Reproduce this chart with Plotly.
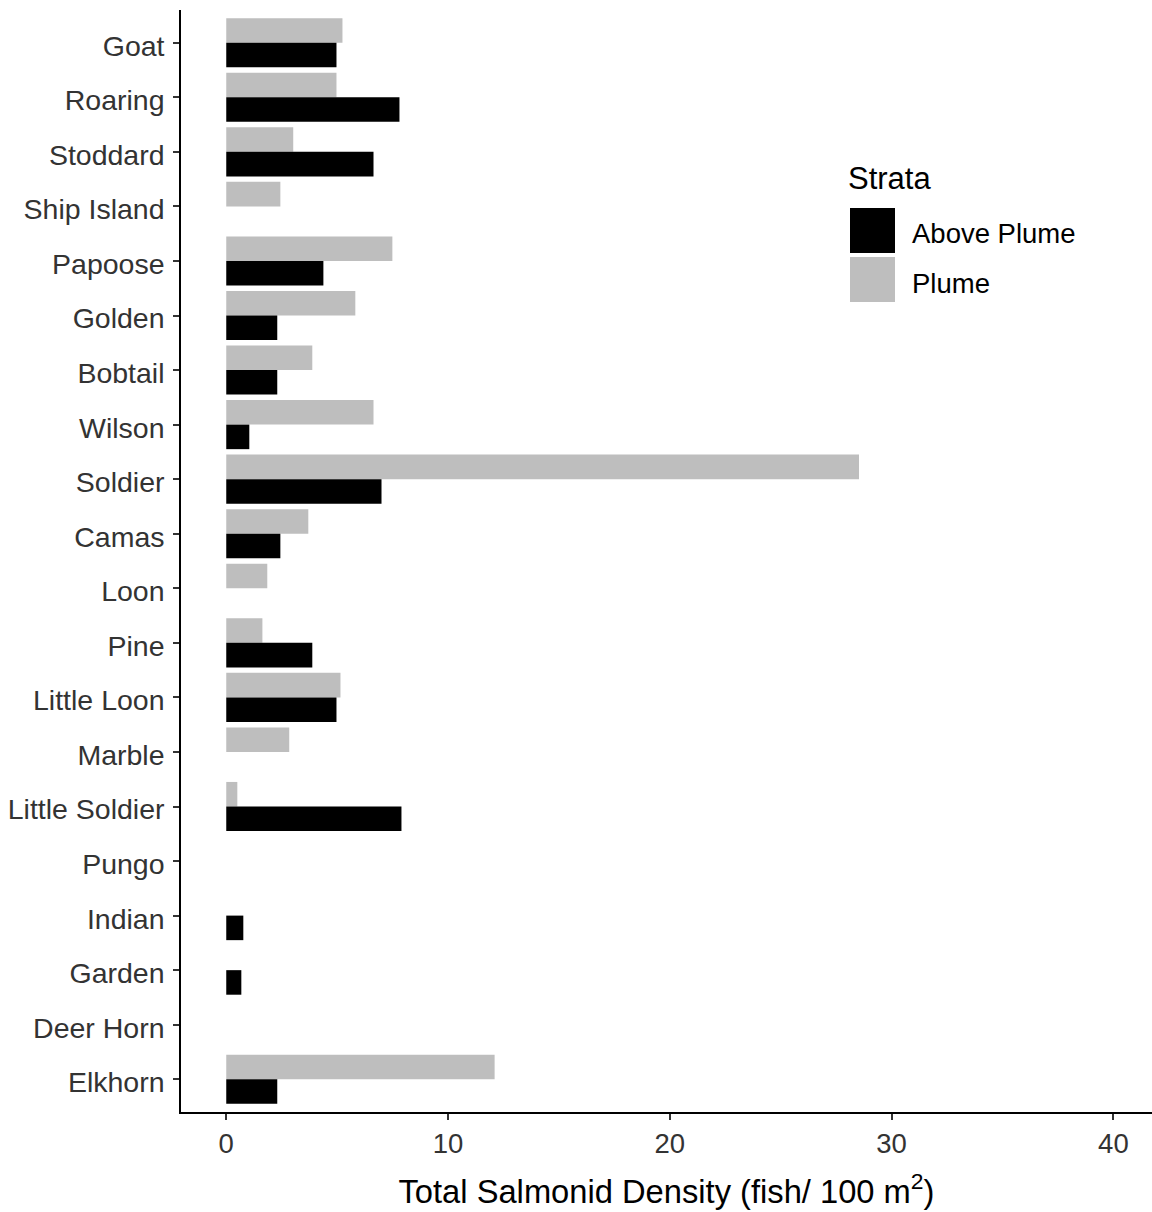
import plotly.graph_objects as go

# Sites, top to bottom
sites = ["Goat", "Roaring", "Stoddard", "Ship Island", "Papoose", "Golden",
         "Bobtail", "Wilson", "Soldier", "Camas", "Loon", "Pine", "Little Loon",
         "Marble", "Little Soldier", "Pungo", "Indian", "Garden", "Deer Horn",
         "Elkhorn"]

# Total salmonid density (fish / 100 m^2) by stratum; None = not sampled
plume = [5.24, 4.97, 3.02, 2.44, 7.49, 5.82, 3.88, 6.64, 28.53, 3.70, 1.85,
         1.63, 5.15, 2.84, 0.50, None, None, None, None, 12.10]
above_plume = [4.97, 7.81, 6.64, None, 4.38, 2.30, 2.30, 1.04, 7.00, 2.44,
               None, 3.88, 4.97, None, 7.90, None, 0.77, 0.68, None, 2.30]

x_ticks = [0, 10, 20, 30, 40]

W, H = 1152, 1212
ML, MR, MT, MB = 181, 0, 10, 100
FONT = "Liberation Sans, Arial, sans-serif"
GREY = "#BEBEBE"
TICK_COL = "#333333"

fig = go.Figure()
fig.add_trace(go.Bar(y=sites, x=plume, orientation="h", name="Plume",
                     marker=dict(color=GREY, line=dict(width=0)), showlegend=False))
fig.add_trace(go.Bar(y=sites, x=above_plume, orientation="h", name="Above Plume",
                     marker=dict(color="black", line=dict(width=0)), showlegend=False))

fig.update_layout(
    width=W, height=H,
    margin=dict(l=ML, r=MR, t=MT, b=MB, pad=0),
    paper_bgcolor="white", plot_bgcolor="white",
    barmode="group", bargap=0.1, bargroupgap=0,
    font=dict(family=FONT, size=28, color="black"),
)

fig.update_xaxes(
    range=[-2.04, 41.74], tickvals=x_ticks, ticks="outside", ticklen=6,
    tickwidth=1.5, tickcolor=TICK_COL, showgrid=False, zeroline=False,
    showline=True, linecolor="black", linewidth=1.5,
    tickfont=dict(size=27.5, color=TICK_COL, family=FONT),
    title=dict(text="Total Salmonid Density (fish/ 100 m<sup>2</sup>)",
               font=dict(size=32.7, color="black", family=FONT), standoff=22),
)
fig.update_yaxes(
    categoryorder="array", categoryarray=sites, range=[19.6, -0.6],
    ticks="outside", ticklen=6, tickwidth=1.5, tickcolor=TICK_COL,
    showgrid=False, zeroline=False, showline=True, linecolor="black",
    linewidth=1.5, tickfont=dict(size=28.5, color=TICK_COL, family=FONT),
    ticklabelstandoff=3, ticklabelshift=-3,
)

# Legend drawn in paper space
PW, PH = W - ML - MR, H - MT - MB


def px(x):
    return (x - ML) / PW


def py(y):
    return (H - MB - y) / PH


fig.add_annotation(x=px(846), y=py(178), xref="paper", yref="paper",
                   text="Strata", showarrow=False, xanchor="left", yanchor="middle",
                   font=dict(size=31, color="black", family=FONT))
legend_items = [("Above Plume", "black", 208), ("Plume", GREY, 257)]
for label, col, top in legend_items:
    fig.add_shape(type="rect", xref="paper", yref="paper",
                  x0=px(850), x1=px(895), y0=py(top + 45), y1=py(top),
                  fillcolor=col, line=dict(width=0))
    fig.add_annotation(x=px(910), y=py(top + 26), xref="paper", yref="paper",
                       text=label, showarrow=False, xanchor="left", yanchor="middle",
                       font=dict(size=27.5, color="black", family=FONT))

fig.write_html("out.html")
